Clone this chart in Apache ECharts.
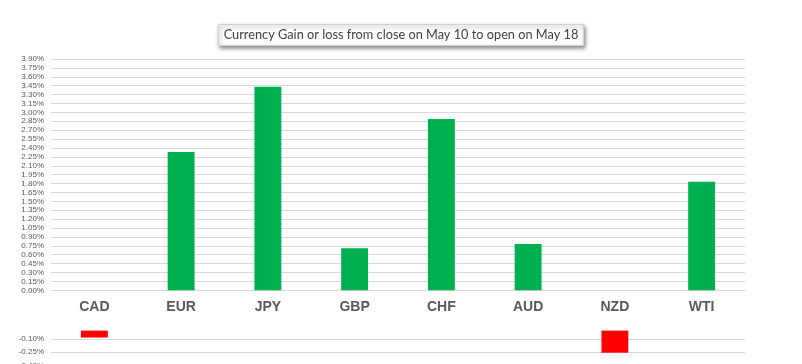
<!DOCTYPE html>
<html>
<head>
<meta charset="utf-8">
<script src="https://cdn.jsdelivr.net/npm/echarts@6/dist/echarts.min.js"></script>
<style>html,body{margin:0;padding:0;background:#fff;}#c{width:802px;height:364px;}</style>
</head>
<body>
<div id="c"></div>
<script>
const titleText = 'Currency Gain or loss from close on May 10 to open on May 18';
const categories = ['CAD', 'EUR', 'JPY', 'GBP', 'CHF', 'AUD', 'NZD', 'WTI'];
const changePct = [-0.08, 2.33, 3.43, 0.71, 2.89, 0.78, -0.255, 1.83];
const posAxis = { min: 0, max: 3.9, interval: 0.15 };
const negAxis = { min: -0.4, max: 0, interval: 0.15 };

const gains = changePct.map(v => v > 0 ? v : null);
const losses = changePct.map(v => v < 0 ? v : null);
const fmt = v => v.toFixed(2) + '%';
const gridColor = '#d9d9d9';
const labelColor = '#595959';

const chart = echarts.init(document.getElementById('c'), null, { renderer: 'canvas' });
chart.setOption({
  animation: false,
  backgroundColor: '#fff',
  title: {
    text: titleText,
    left: 'center',
    top: 24,
    padding: [4, 5, 5, 5],
    backgroundColor: '#fff',
    borderColor: '#d0d0d0',
    borderWidth: 1,
    shadowBlur: 4,
    shadowColor: 'rgba(0,0,0,0.45)',
    shadowOffsetX: 1,
    shadowOffsetY: 2,
    textStyle: { fontFamily: 'Lato', fontSize: 12.75, fontWeight: 'normal', color: '#404040' }
  },
  grid: [
    { left: 51, right: 57, top: 59, height: 231.3, outerBoundsMode: 'none', containLabel: false },
    { left: 51, right: 57, top: 330.6, height: 34.7, outerBoundsMode: 'none', containLabel: false }
  ],
  xAxis: [
    {
      gridIndex: 0, type: 'category', data: categories,
      axisLine: { show: true, lineStyle: { color: gridColor } },
      axisTick: { show: false },
      axisLabel: { margin: 10, color: labelColor, fontFamily: 'Liberation Sans', fontWeight: 'bold', fontSize: 14 }
    },
    {
      gridIndex: 1, type: 'category', data: categories, show: false
    }
  ],
  yAxis: [
    {
      gridIndex: 0, type: 'value', min: posAxis.min, max: posAxis.max, interval: posAxis.interval,
      axisLine: { show: false }, axisTick: { show: false },
      axisLabel: { formatter: fmt, color: labelColor, fontFamily: 'Liberation Sans', fontSize: 8, margin: 7 },
      splitLine: { lineStyle: { color: gridColor, width: 1 } }
    },
    {
      gridIndex: 1, type: 'value', min: negAxis.min, max: negAxis.max, interval: negAxis.interval,
      axisLine: { show: false }, axisTick: { show: false },
      axisLabel: { formatter: fmt, color: labelColor, fontFamily: 'Liberation Sans', fontSize: 8, margin: 7, showMaxLabel: false },
      splitLine: { showMaxLine: false, lineStyle: { color: gridColor, width: 1 } }
    }
  ],
  series: [
    {
      type: 'bar', xAxisIndex: 0, yAxisIndex: 0, data: gains,
      barWidth: '31%', itemStyle: { color: '#00B050' }
    },
    {
      type: 'bar', xAxisIndex: 1, yAxisIndex: 1, data: losses,
      barWidth: '31%', itemStyle: { color: '#FF0000' }
    }
  ]
});
</script>
</body>
</html>
